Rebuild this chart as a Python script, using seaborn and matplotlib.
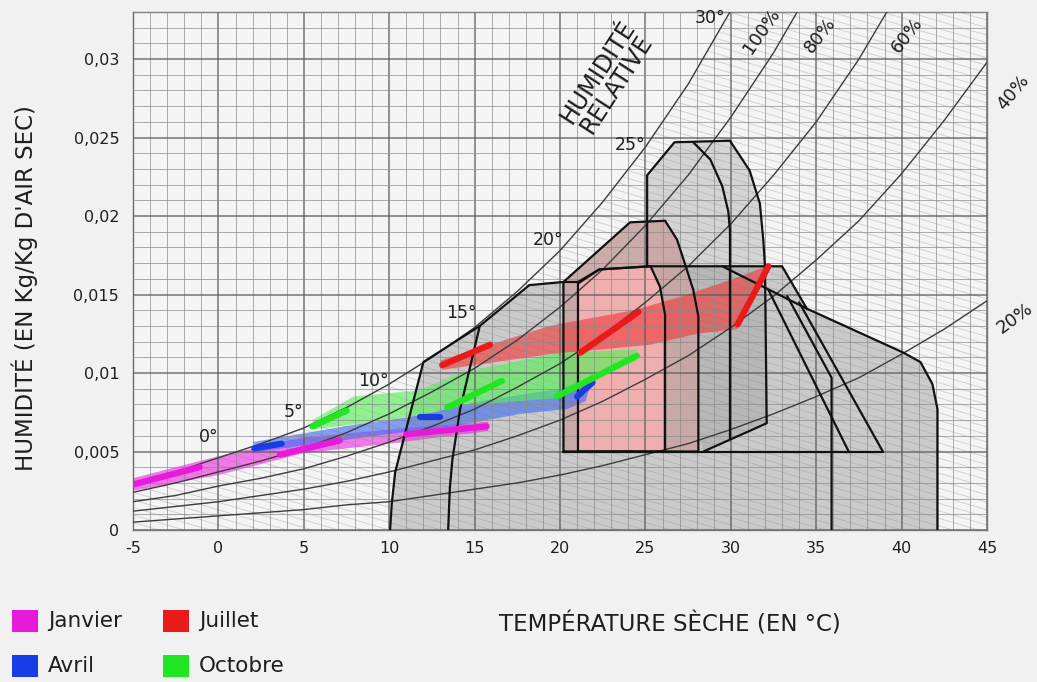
import numpy as np
import pandas as pd
import matplotlib
matplotlib.use("Agg")
import matplotlib.pyplot as plt
from matplotlib.collections import LineCollection
from matplotlib.patches import Polygon, Rectangle
from matplotlib.ticker import FuncFormatter, MultipleLocator
import seaborn as sns

# --- psychrometric frame (T in °C, W in kg/kg) ---
temps = [-5, -2.5, 0, 2.5, 5, 7.5, 10, 12.5, 15, 17.5, 20, 22.5, 25, 27.5,
         30, 32.5, 35, 37.5, 40, 42.5, 45]
rh_100 = [0.0030, 0.0037, 0.0046, 0.0055, 0.0065, 0.0078, 0.0093, 0.0110,
          0.0129, 0.0152, 0.0178, 0.0209, 0.0244, 0.0284, 0.0331, 0.0384,
          0.0444, 0.0513, 0.0594, 0.0687, 0.0793]
rh_80 = [0.0024, 0.0030, 0.0037, 0.0044, 0.0052, 0.0062, 0.0074, 0.0088,
         0.0103, 0.0121, 0.0142, 0.0166, 0.0194, 0.0226, 0.0263, 0.0304,
         0.0351, 0.0405, 0.0468, 0.0540, 0.0621]
rh_60 = [0.0018, 0.0022, 0.0028, 0.0033, 0.0039, 0.0047, 0.0056, 0.0066,
         0.0077, 0.0091, 0.0106, 0.0124, 0.0145, 0.0168, 0.0195, 0.0226,
         0.0260, 0.0300, 0.0346, 0.0398, 0.0457]
rh_40 = [0.0012, 0.0015, 0.0018, 0.0022, 0.0026, 0.0031, 0.0037, 0.0044,
         0.0051, 0.0060, 0.0070, 0.0082, 0.0096, 0.0111, 0.0129, 0.0149,
         0.0172, 0.0197, 0.0227, 0.0261, 0.0298]
rh_20 = [0.0005, 0.0007, 0.0009, 0.0011, 0.0013, 0.0016, 0.0018, 0.0022,
         0.0026, 0.0030, 0.0035, 0.0041, 0.0048, 0.0055, 0.0064, 0.0074,
         0.0085, 0.0097, 0.0112, 0.0128, 0.0146]
rh_names = ["100%", "80%", "60%", "40%", "20%"]

wet_bulb_labels = ["0°", "5°", "10°", "15°", "20°", "25°", "30°"]

# --- bioclimatic zones (outline vertices) ---
heat_t = [10.05, 10.15, 10.35, 12.0, 15.3, 18.2, 20.2, 21.05, 22.3, 25.3,
          33.0, 34.45, 40.1, 41.1, 41.8, 42.1, 42.1]
heat_w = [0.0, 0.0017, 0.0037, 0.0107, 0.0130, 0.0156, 0.0158, 0.0158,
          0.0166, 0.0168, 0.0168, 0.0141, 0.0113, 0.0107, 0.0093, 0.0077, 0.0]
inner_heat_t = [13.45, 13.55, 13.7, 14.15, 15.3]
inner_heat_w = [0.0, 0.0027, 0.0045, 0.0077, 0.0130]

inertia_t = [25.1, 25.1, 26.7, 29.95, 31.1, 31.7, 31.9, 32.0, 32.1, 28.4]
inertia_w = [0.0168, 0.0226, 0.0247, 0.0248, 0.0229, 0.0208, 0.0185,
             0.0168, 0.0068, 0.0050]
inertia_inner_t = [27.8, 28.8, 29.5, 29.85, 29.95, 29.95]
inertia_inner_w = [0.0247, 0.0236, 0.0219, 0.0203, 0.0191, 0.0058]

ext_t = [20.2, 20.2, 24.1, 26.15, 26.85, 27.3, 27.8, 28.1, 28.1]
ext_w = [0.0050, 0.0158, 0.0196, 0.0197, 0.0185, 0.0170, 0.0153, 0.0136, 0.0050]

comfort_t = [21.05, 21.05, 22.3, 25.3, 25.85, 26.15, 26.15]
comfort_w = [0.0050, 0.0157, 0.0166, 0.0168, 0.0155, 0.0137, 0.0050]

vent_t = [29.5, 34.45]
vent_w = [0.0168, 0.0141]
base_t = [20.2, 38.9]
base_w = [0.0050, 0.0050]
evap1_t = [32.2, 36.9]
evap1_w = [0.0153, 0.0050]
evap2_t = [33.3, 34.6, 35.9, 35.9]
evap2_w = [0.0149, 0.0123, 0.0097, 0.0]
evap3_t = [34.0, 38.9]
evap3_w = [0.0145, 0.0050]

# --- monthly climate envelopes ---
months = ["Janvier", "Avril", "Juillet", "Octobre"]
month_colors = ["#e61ad9", "#1a3ce6", "#ea1a1a", "#22e622"]
band_colors = ["#ec2fe0", "#3f6cf0", "#f03a3a", "#55ef55"]

jan_hi_t = [-5, 0, 5, 10, 15.8]
jan_hi_w = [0.0033, 0.0047, 0.0059, 0.0064, 0.0069]
jan_lo_t = [-5, 0, 5, 10, 15.8]
jan_lo_w = [0.00250, 0.0035, 0.0049, 0.0055, 0.0063]
jan_seg_t = [[-5, -1.1], [3.6, 7.1], [11.0, 15.7]]
jan_seg_w = [[0.0029, 0.0040], [0.0048, 0.0057], [0.0061, 0.0066]]

avr_hi_t = [2.0, 7.9, 11.8, 15.3, 20.0, 21.9]
avr_hi_w = [0.0056, 0.0067, 0.0073, 0.0082, 0.0090, 0.0097]
avr_lo_t = [2.4, 9.9, 13.7, 17.7, 20.4, 21.5]
avr_lo_w = [0.0050, 0.0061, 0.0066, 0.0074, 0.0077, 0.0082]
avr_seg_t = [[2.1, 3.7], [11.8, 13.0], [21.0, 21.9]]
avr_seg_w = [[0.0052, 0.0055], [0.0072, 0.0072], [0.0085, 0.0094]]

jul_hi_t = [13.0, 19.4, 24.3, 27.2, 30.4, 32.3]
jul_hi_w = [0.0108, 0.0130, 0.0140, 0.0149, 0.0161, 0.0169]
jul_lo_t = [13.1, 19.4, 25.3, 28.0, 30.4, 32.2]
jul_lo_w = [0.0102, 0.0112, 0.0118, 0.0125, 0.0128, 0.0164]
jul_seg_t = [[13.1, 15.9], [21.2, 24.6], [30.4, 32.2]]
jul_seg_w = [[0.0105, 0.0118], [0.0113, 0.0139], [0.0131, 0.0168]]

oct_hi_t = [5.5, 7.9, 11.8, 14.1, 20.0, 24.5]
oct_hi_w = [0.0070, 0.0085, 0.0089, 0.0100, 0.0113, 0.0115]
oct_lo_t = [5.6, 11.8, 14.1, 19.8, 24.5]
oct_lo_w = [0.0064, 0.0073, 0.0079, 0.0084, 0.0108]
oct_seg_t = [[5.5, 7.5], [13.4, 16.6], [19.8, 24.5]]
oct_seg_w = [[0.0066, 0.0076], [0.0078, 0.0095], [0.0085, 0.0111]]

x_ticks = [-5, 0, 5, 10, 15, 20, 25, 30, 35, 40, 45]
y_ticks = [0, 0.005, 0.01, 0.015, 0.02, 0.025, 0.03]


def main():
    sns.set_theme(style="white")
    plt.rcParams["font.family"] = ["DejaVu Sans"]
    plt.rcParams["axes.unicode_minus"] = False

    fig = plt.figure(figsize=(10.37, 6.82), dpi=100, facecolor="#f1f1f1")
    ax = fig.add_axes([0.1283, 0.2229, 0.8235, 0.7595])
    ax.set_facecolor("#f4f4f4")
    ax.set_xlim(-5, 45)
    ax.set_ylim(0, 0.033)

    # faint wet-bulb hatch, only below the saturation curve
    slope = 0.00032
    segs = [[(t0 - 120, 120 * slope), (t0, 0)] for t0 in np.arange(-5, 150, 1.5)]
    hatch = LineCollection(segs, colors="#cdcdcd", linewidths=0.6, zorder=1)
    ax.add_collection(hatch)
    sat_region = Polygon(np.column_stack([temps + [45, -5], rh_100 + [0, 0]]),
                         closed=True, transform=ax.transData)
    hatch.set_clip_path(sat_region)

    # zones
    ax.fill(heat_t, heat_w, color="#8c8c8c", alpha=0.40, lw=0, zorder=1.2)
    ax.fill(inertia_t, inertia_w, color="#8c8c8c", alpha=0.30, lw=0, zorder=1.3)
    ax.fill(ext_t, ext_w, color="#c9a5a5", alpha=0.92, lw=0, zorder=1.4)
    ax.fill(comfort_t, comfort_w, color="#f3b0b0", alpha=0.92, lw=0, zorder=1.5)

    # monthly envelopes
    bands = [(jan_hi_t, jan_hi_w, jan_lo_t, jan_lo_w),
             (avr_hi_t, avr_hi_w, avr_lo_t, avr_lo_w),
             (jul_hi_t, jul_hi_w, jul_lo_t, jul_lo_w),
             (oct_hi_t, oct_hi_w, oct_lo_t, oct_lo_w)]
    for (ht, hw, lt, lw_), col in zip(bands, band_colors):
        ax.fill(ht + lt[::-1], hw + lw_[::-1], color=col, alpha=0.62,
                lw=0, zorder=2)

    # grid
    ax.xaxis.set_major_locator(MultipleLocator(5))
    ax.xaxis.set_minor_locator(MultipleLocator(1))
    ax.yaxis.set_major_locator(MultipleLocator(0.005))
    ax.yaxis.set_minor_locator(MultipleLocator(0.001))
    ax.set_axisbelow(False)
    ax.grid(which="major", color="#5e5e5e", lw=1.1, alpha=0.85)
    ax.grid(which="minor", color="#8a8a8a", lw=0.7, alpha=0.7)

    # relative humidity curves
    rh_frame = pd.DataFrame({
        "t": temps * 5,
        "w": rh_100 + rh_80 + rh_60 + rh_40 + rh_20,
        "rh": np.repeat(rh_names, len(temps)),
    })
    sns.lineplot(data=rh_frame, x="t", y="w", units="rh", estimator=None,
                 sort=False, color="#3c3c3c", lw=1.0, ax=ax, zorder=3)

    # zone outlines
    edge = dict(color="#111111", lw=1.6, zorder=3.5, solid_joinstyle="round")
    ax.plot(heat_t, heat_w, **edge)
    ax.plot(inner_heat_t, inner_heat_w, **edge)
    ax.plot(inertia_t, inertia_w, **edge)
    ax.plot(inertia_inner_t, inertia_inner_w, **edge)
    ax.plot(ext_t + ext_t[:1], ext_w + ext_w[:1], **edge)
    ax.plot(comfort_t + comfort_t[:1], comfort_w + comfort_w[:1], **edge)
    for tt, ww in [(vent_t, vent_w), (base_t, base_w), (evap1_t, evap1_w),
                   (evap2_t, evap2_w), (evap3_t, evap3_w)]:
        ax.plot(tt, ww, **edge)

    # monthly thick segments
    seg_sets = [(jan_seg_t, jan_seg_w), (avr_seg_t, avr_seg_w),
                (jul_seg_t, jul_seg_w), (oct_seg_t, oct_seg_w)]
    for (st, sw), col in zip(seg_sets, month_colors):
        for tt, ww in zip(st, sw):
            ax.plot(tt, ww, color=col, lw=4.5, solid_capstyle="round", zorder=4)

    # axis styling
    for sp in ax.spines.values():
        sp.set_color("#777777")
        sp.set_linewidth(1.0)
    ax.set_xticks(x_ticks)
    ax.set_yticks(y_ticks)
    ax.yaxis.set_major_formatter(FuncFormatter(lambda v, p: f"{v:g}".replace(".", ",")))
    ax.tick_params(axis="both", which="both", length=0, labelsize=11.5,
                   labelcolor="#1e1e1e")
    ax.tick_params(axis="x", pad=8)
    ax.tick_params(axis="y", pad=10)
    ax.set_xlabel("")
    ax.set_ylabel("")

    # chart annotations
    txt = dict(color="#1e1e1e", ha="center", va="center", zorder=5)
    wb_pos = [(-0.6, 0.0059), (4.4, 0.0075), (9.05, 0.0095), (14.2, 0.0138),
              (19.3, 0.0185), (24.1, 0.0245), (28.8, 0.0326)]
    for lab, (x, y) in zip(wet_bulb_labels, wb_pos):
        ax.text(x, y, lab, fontsize=12.5, **txt)

    rh_pos = [(31.8, 0.0318, 55), (35.2, 0.0315, 52), (40.3, 0.0315, 52),
              (46.5, 0.0279, 50), (46.6, 0.0135, 36)]
    for lab, (x, y, rot) in zip(rh_names, rh_pos):
        ax.text(x, y, lab, fontsize=13, rotation=rot, rotation_mode="anchor",
                clip_on=False, **txt)
    ax.text(22.75, 0.0288, "HUMIDITÉ\nRELATIVE", fontsize=17, rotation=57,
            rotation_mode="anchor", multialignment="center", linespacing=0.95,
            **txt)

    fig.text(0.024, 0.578, "HUMIDITÉ (EN Kg/Kg D'AIR SEC)", rotation=90,
             fontsize=16.5, ha="center", va="center", color="#1e1e1e")
    fig.text(0.646, 0.0836, "TEMPÉRATURE SÈCHE (EN °C)", fontsize=16.5,
             ha="center", va="center", color="#1e1e1e")

    # legend
    W, H = 1037.0, 682.0
    legend_slots = {"Janvier": (12, 621), "Juillet": (163, 621),
                    "Avril": (12, 666), "Octobre": (163, 666)}
    for name, col in zip(months, month_colors):
        px, py = legend_slots[name]
        fig.add_artist(Rectangle((px / W, (H - py - 11) / H), 26 / W, 22 / H,
                                 transform=fig.transFigure, color=col, lw=0))
        fig.text((px + 36) / W, (H - py) / H, name, fontsize=15.5,
                 ha="left", va="center", color="#1e1e1e")

    fig.savefig("out.png", dpi=100, facecolor=fig.get_facecolor())
    plt.close(fig)


if __name__ == "__main__":
    main()
